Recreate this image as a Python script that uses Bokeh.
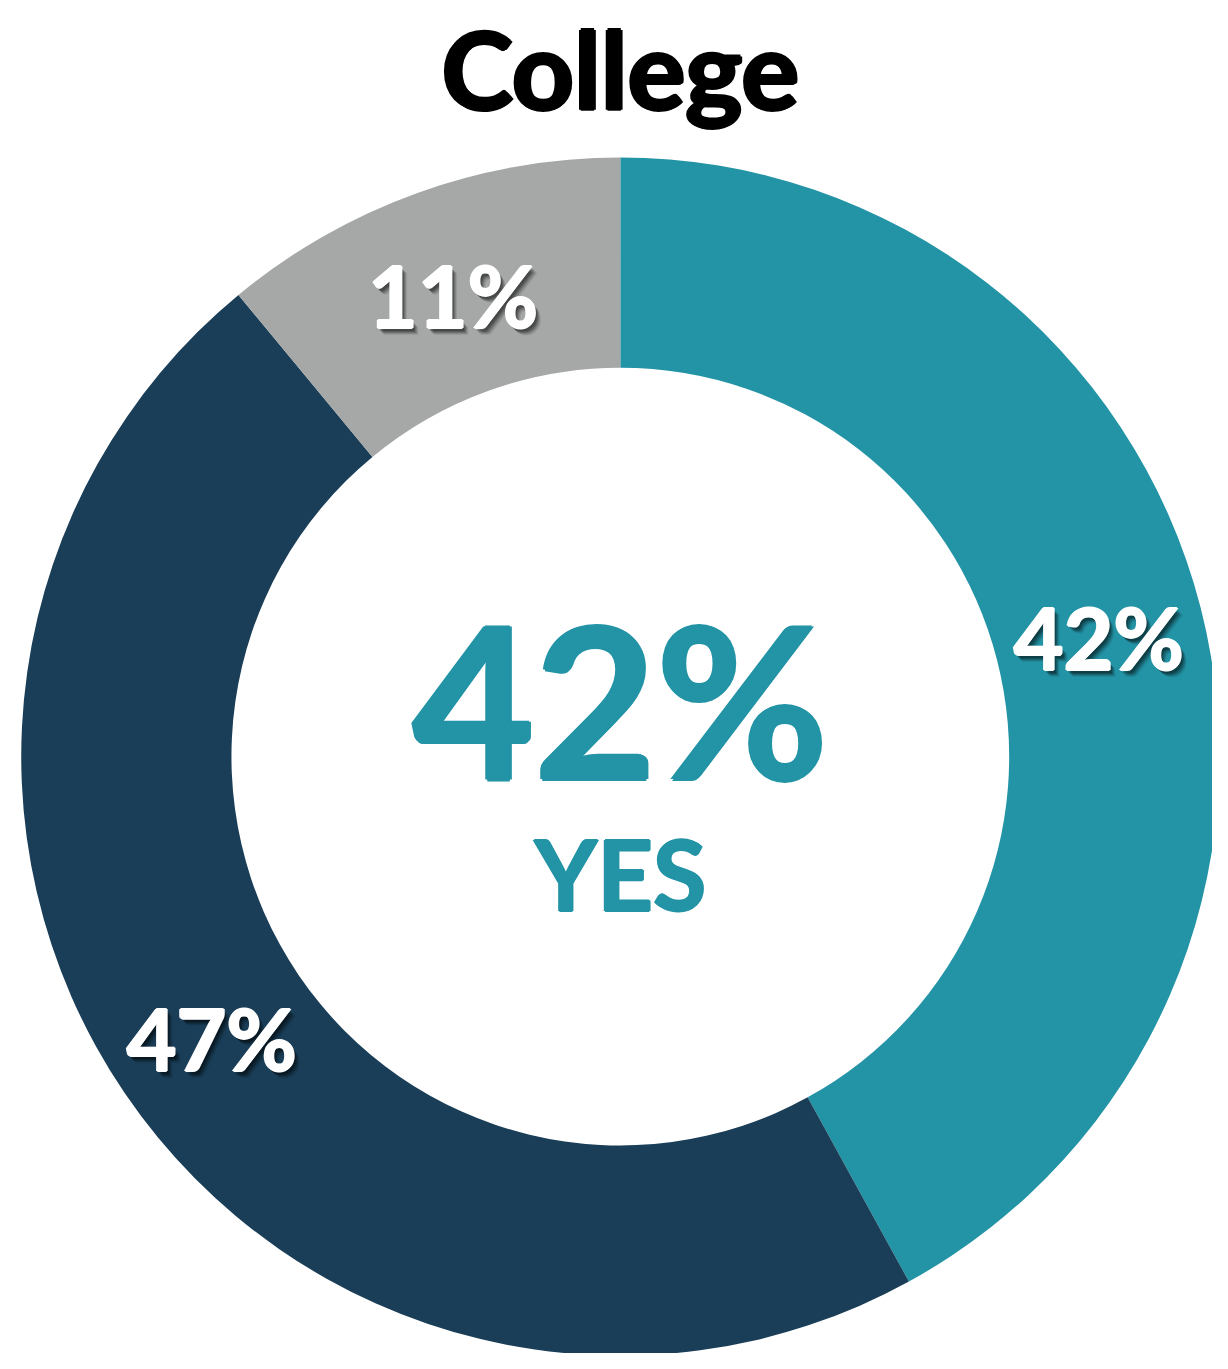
import math
from bokeh.plotting import figure
from bokeh.models import Range1d, ColumnDataSource
from bokeh.core.properties import value
from bokeh.embed import file_html
from bokeh.resources import INLINE

title = "College"
categories = ["Yes", "No", "Unsure"]
values = [42, 47, 11]
colors = ["#2394A6", "#1A3E57", "#A5A8A7"]
center_value = "42%"
center_label = "YES"

W, H = 1212, 1353
p = figure(width=W, height=H, output_backend="svg", toolbar_location=None,
           x_range=Range1d(0, 1228), y_range=Range1d(-1369, 0),
           min_border=0, outline_line_color=None)
p.axis.visible = False
p.grid.visible = False
p.background_fill_color = "white"
p.border_fill_color = "white"

cx, cy = 628, -765
r_out, r_in = 607, 394

starts, ends, lx, ly, labels = [], [], [], [], []
ang = math.pi / 2
total = sum(values)
for i, v in enumerate(values):
    a0 = ang
    a1 = ang - 2 * math.pi * v / total
    starts.append(a1)
    ends.append(a0)
    mid = (a0 + a1) / 2
    lr = (r_in + r_out) / 2
    lx.append(cx + lr * math.cos(mid))
    ly.append(cy + lr * math.sin(mid) - 3)
    labels.append(f"{v}%")
    ang = a1

src = ColumnDataSource(dict(start=starts, end=ends, color=colors, cat=categories))
p.annular_wedge(x=cx, y=cy, inner_radius=r_in, outer_radius=r_out,
                start_angle="start", end_angle="end", color="color",
                line_color=None, source=src)

font = value("Lato")
BOLD_OFFS = [(-1.2, 0), (1.2, 0), (0, -1.0), (0, 1.0), (0, 0)]

lab_src = ColumnDataSource(dict(x=lx, y=ly, text=labels))
for dx, dy, a in [(6, 7, 0.08), (5, 6, 0.12), (4, 5, 0.16), (3, 4, 0.2), (2, 3, 0.2)]:
    p.text(x="x", y="y", text="text", source=lab_src, x_offset=dx, y_offset=dy,
           text_color="black", text_alpha=a, text_font=font, text_font_style="bold",
           text_font_size="86px", text_align="center", text_baseline="middle")
for ox, oy in BOLD_OFFS:
    p.text(x="x", y="y", text="text", source=lab_src, x_offset=ox, y_offset=oy,
           text_color="white", text_font=font, text_font_style="bold",
           text_font_size="86px", text_align="center", text_baseline="middle")

for ox, oy in BOLD_OFFS:
    p.text(x=[cx], y=[-706], text=[center_value], text_color=colors[0], text_font=font,
           x_offset=ox * 1.6, y_offset=oy * 1.6,
           text_font_style="bold", text_font_size="210px", text_align="center",
           text_baseline="middle")
    p.text(x=[cx], y=[-883], text=[center_label], text_color=colors[0], text_font=font,
           x_offset=ox, y_offset=oy,
           text_font_style="bold", text_font_size="97px", text_align="center",
           text_baseline="middle")
    p.text(x=[cx], y=[-68], text=[title], text_color="black", text_font=font,
           x_offset=ox * 1.5, y_offset=oy * 1.5,
           text_font_style="bold", text_font_size="108px", text_align="center",
           text_baseline="middle")

open("out.html", "w").write(file_html(p, INLINE))
